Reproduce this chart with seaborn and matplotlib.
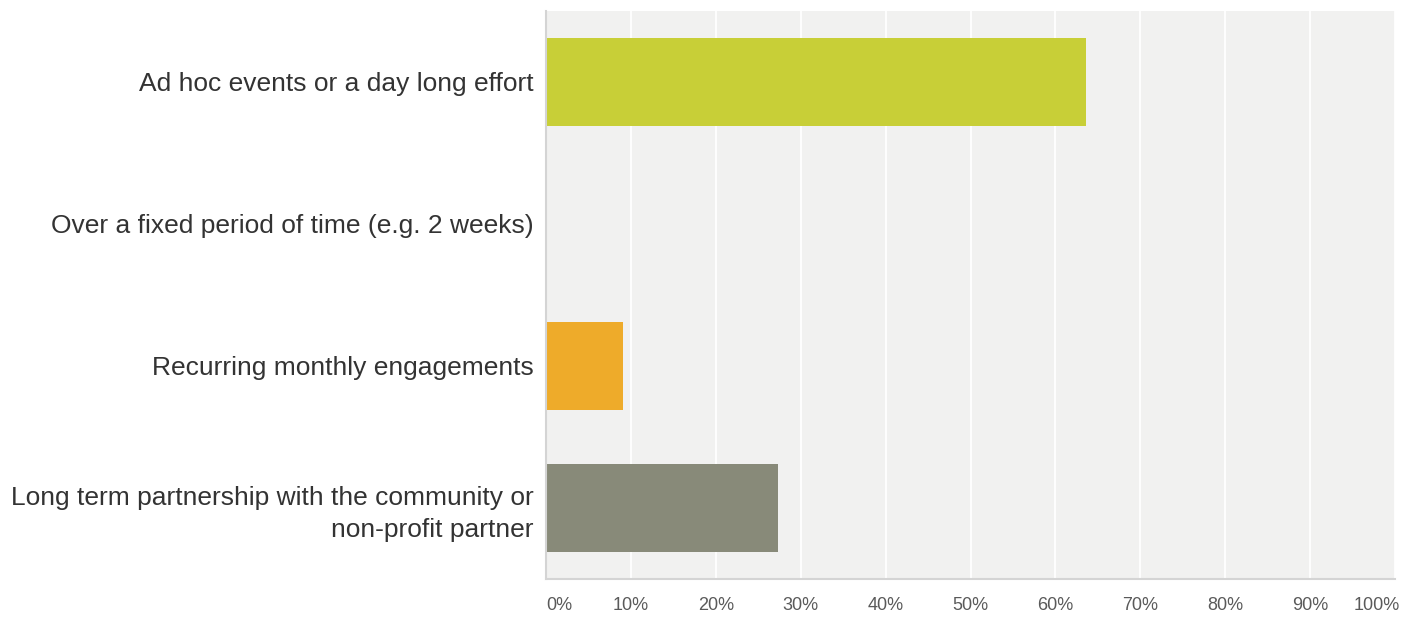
import matplotlib
matplotlib.use("Agg")
import matplotlib.pyplot as plt
import matplotlib.transforms as mtransforms
import seaborn as sns
import pandas as pd

categories = [
    "Ad hoc events or a day long effort",
    "Over a fixed period of time (e.g. 2 weeks)",
    "Recurring monthly engagements",
    "Long term partnership with the community or\nnon-profit partner",
]
percentages = [63.64, 0.0, 9.09, 27.27]
bar_colors = ["#c8cf37", "#c8cf37", "#eeab2a", "#888a79"]
tick_values = [0, 10, 20, 30, 40, 50, 60, 70, 80, 90, 100]
tick_labels = [f"{v}%" for v in tick_values]

df = pd.DataFrame({"category": categories, "pct": percentages})

sns.set_theme(style="white")
plt.rcParams["font.family"] = ["Liberation Sans", "DejaVu Sans"]

fig = plt.figure(figsize=(14.1, 6.24), dpi=100)
ax = fig.add_axes([546 / 1410, 1 - 579 / 624, (1395 - 546) / 1410, (579 - 11) / 624])
ax.set_facecolor("#f1f1f0")

sns.barplot(
    data=df, x="pct", y="category", hue="category", palette=bar_colors,
    legend=False, width=0.62, orient="h", ax=ax, saturation=1, linewidth=0,
)

ax.set_xlim(0, 100)
ax.set_xticks(tick_values)
ax.set_xticklabels(tick_labels)
ax.set_xlabel("")
ax.set_ylabel("")
ax.grid(axis="x", color="white", linewidth=1.3)
ax.set_axisbelow(True)

for side in ("top", "right"):
    ax.spines[side].set_visible(False)
for side in ("left", "bottom"):
    ax.spines[side].set_color("#d4d4d4")
    ax.spines[side].set_linewidth(1.5)

ax.tick_params(axis="y", length=0, pad=9, labelsize=19, labelcolor="#333333")
ax.tick_params(axis="x", length=0, pad=13, labelsize=13, labelcolor="#5a5a5a")
for lbl in ax.get_yticklabels():
    lbl.set_horizontalalignment("right")
    lbl.set_multialignment("right")
    lbl.set_linespacing(1.4)

xl = ax.get_xticklabels()
xl[0].set_horizontalalignment("left")
xl[-1].set_horizontalalignment("right")
xl[-1].set_transform(xl[-1].get_transform()
                     + mtransforms.ScaledTranslation(5 / 100, 0, fig.dpi_scale_trans))

fig.savefig("out.png", dpi=100, facecolor="white")
